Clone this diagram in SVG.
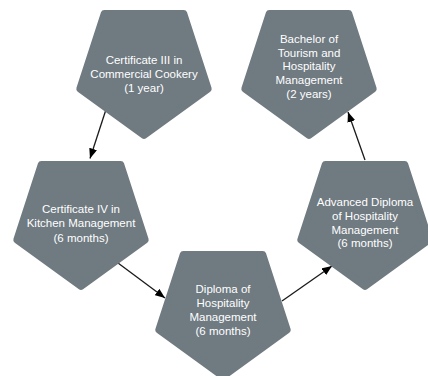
<svg xmlns="http://www.w3.org/2000/svg" xmlns:xlink="http://www.w3.org/1999/xlink" width="428" height="376" viewBox="0 0 428 376">
  <defs>
    <style>
      .node polygon { fill: #6f7a81; stroke: #6f7a81; stroke-width: 7; stroke-linejoin: round; }
      .node text { fill: #ffffff; font-family: "Liberation Sans", Arial, sans-serif; font-size: 11.5px; text-anchor: middle; }
      .conn line { stroke: #1a1a1a; stroke-width: 1.3; fill: none; marker-end: url(#arrow); }
    </style>
    <marker id="arrow" markerUnits="userSpaceOnUse" markerWidth="11" markerHeight="8" refX="10" refY="4" orient="auto">
      <path d="M0,0 L10,4 L0,8 z" fill="#000000"/>
    </marker>
  </defs>
  <rect width="428" height="376" fill="#ffffff"/>

  <g id="connectors" class="conn">
    <line x1="105.5" y1="111" x2="90" y2="158.5"/>
    <line x1="118" y1="263" x2="165" y2="298"/>
    <line x1="282" y1="301" x2="332" y2="266"/>
    <line x1="365" y1="160" x2="348" y2="112"/>
  </g>

  <g id="node-cert3" class="node" transform="translate(144,68)">
    <polygon points="0,67.5 -64.2,20.86 -39.68,-54.61 39.68,-54.61 64.2,20.86"/>
    <text x="0" y="-4">Certificate III in</text>
    <text x="0" y="10">Commercial Cookery</text>
    <text x="0" y="24">(1 year)</text>
  </g>

  <g id="node-bachelor" class="node" transform="translate(309,68)">
    <polygon points="0,67.5 -64.2,20.86 -39.68,-54.61 39.68,-54.61 64.2,20.86"/>
    <text x="0" y="-25">Bachelor of</text>
    <text x="0" y="-11.3">Tourism and</text>
    <text x="0" y="2.4">Hospitality</text>
    <text x="0" y="16">Management</text>
    <text x="0" y="29.8">(2 years)</text>
  </g>

  <g id="node-cert4" class="node" transform="translate(81,219)">
    <polygon points="0,67.5 -64.2,20.86 -39.68,-54.61 39.68,-54.61 64.2,20.86"/>
    <text x="0" y="-6.5">Certificate IV in</text>
    <text x="0" y="8">Kitchen Management</text>
    <text x="0" y="22.5">(6 months)</text>
  </g>

  <g id="node-diploma" class="node" transform="translate(223,309)">
    <polygon points="0,67.5 -64.2,20.86 -39.68,-54.61 39.68,-54.61 64.2,20.86"/>
    <text x="0" y="-16">Diploma of</text>
    <text x="0" y="-2">Hospitality</text>
    <text x="0" y="12">Management</text>
    <text x="0" y="26">(6 months)</text>
  </g>

  <g id="node-adv-diploma" class="node" transform="translate(365,219)">
    <polygon points="0,67.5 -64.2,20.86 -39.68,-54.61 39.68,-54.61 64.2,20.86"/>
    <text x="0" y="-13">Advanced Diploma</text>
    <text x="0" y="1">of Hospitality</text>
    <text x="0" y="14.5">Management</text>
    <text x="0" y="28">(6 months)</text>
  </g>
</svg>
